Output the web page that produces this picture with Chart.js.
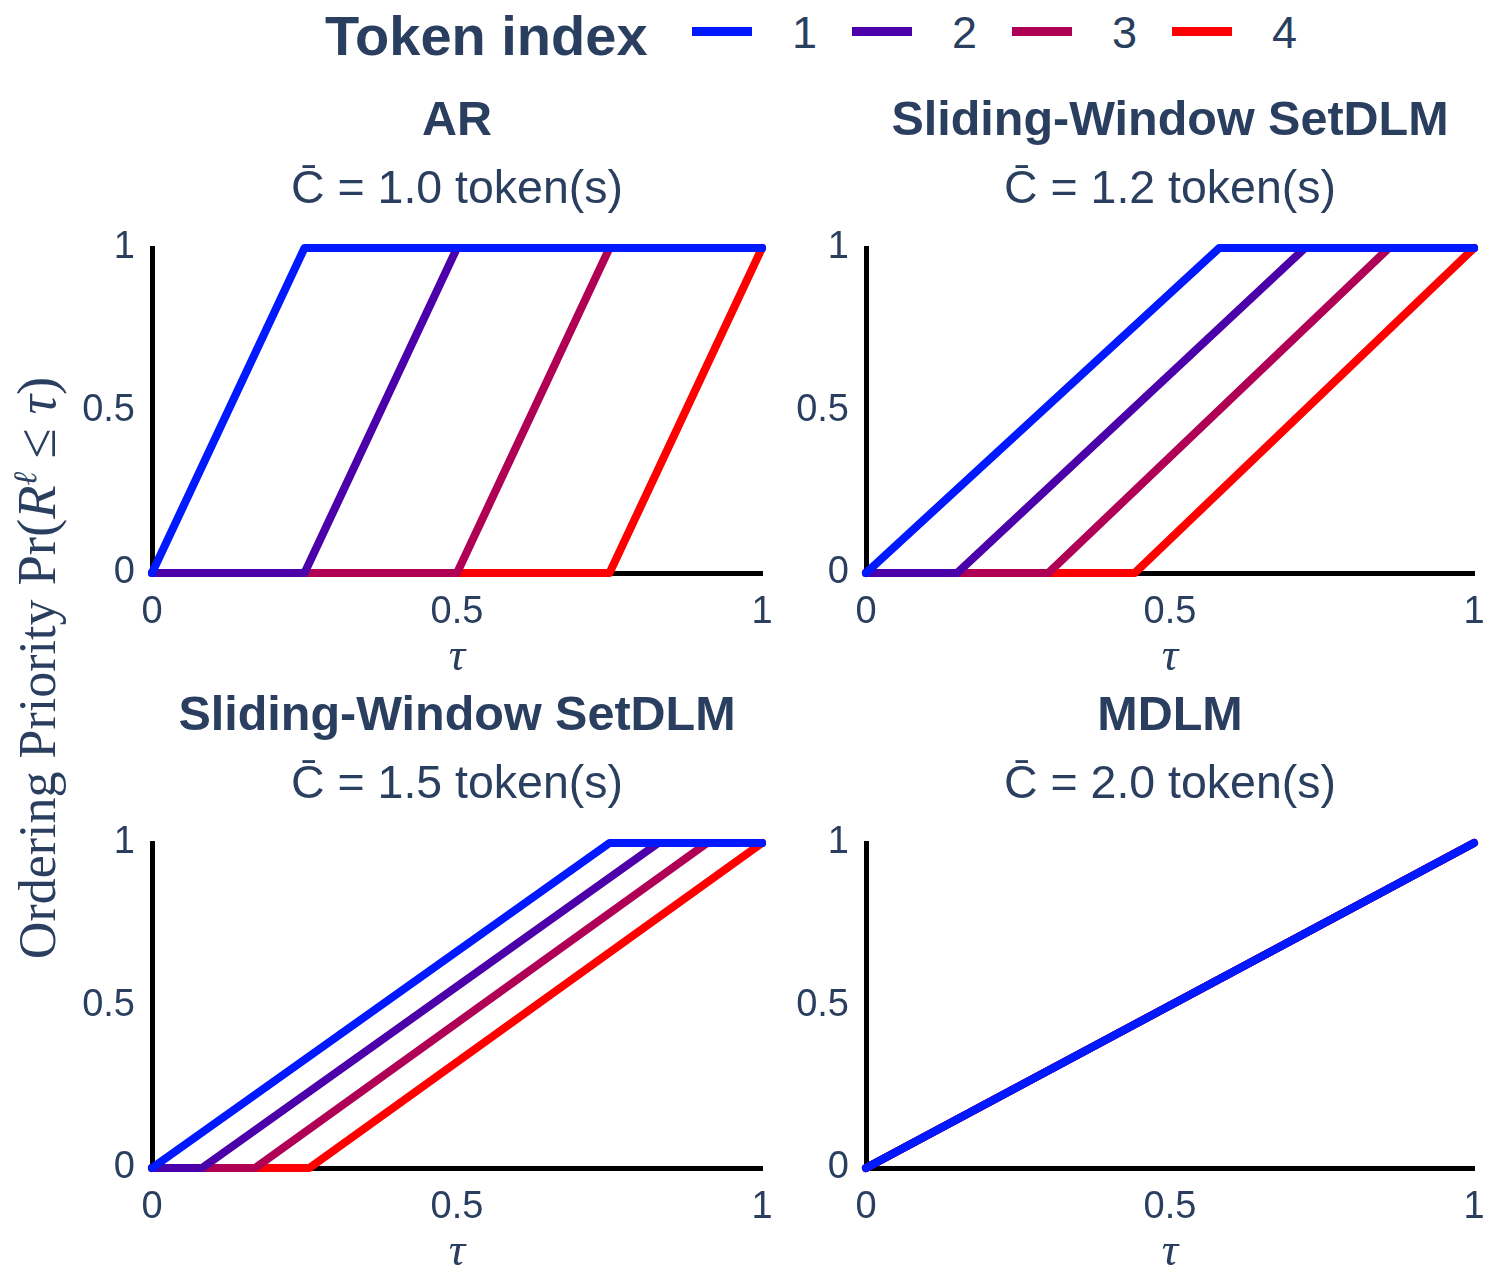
<!DOCTYPE html>
<html>
<head>
<meta charset="utf-8">
<script src="https://cdn.jsdelivr.net/npm/chart.js@4.4.1/dist/chart.umd.min.js"></script>
<style>
  html, body { margin: 0; padding: 0; background: #ffffff; }
  #wrap { position: relative; width: 1500px; height: 1285px; background: #ffffff; overflow: hidden; }
  #wrap canvas { position: absolute; }
  .txt { position: absolute; color: #2a3f5f; white-space: nowrap; line-height: 1; }
</style>
</head>
<body>
<div id="wrap"></div>
<script>
// ---------------- data ----------------
const tokenLabels = ['1', '2', '3', '4'];
const legendTitle = 'Token index';
const panelTitles = ['AR', 'Sliding-Window SetDLM', 'Sliding-Window SetDLM', 'MDLM'];
const panelSubtitles = ['C\u0304 = 1.0 token(s)', 'C\u0304 = 1.2 token(s)', 'C\u0304 = 1.5 token(s)', 'C\u0304 = 2.0 token(s)'];
// tau where Pr(R <= tau) starts rising from 0, and tau where it reaches 1 (per token)
const arRise   = [0, 0.25, 0.5, 0.75];
const arFull   = [0.25, 0.5, 0.75, 1];
const sw12Rise = [0, 0.15, 0.30, 0.442];
const sw12Full = [0.581, 0.722, 0.86, 1];
const sw15Rise = [0, 0.082, 0.169, 0.258];
const sw15Full = [0.75, 0.83, 0.91, 1];
const mdlmRise = [0, 0, 0, 0];
const mdlmFull = [1, 1, 1, 1];
const tauTicks = [0, 0.5, 1];
const tauTickLabels = ['0', '0.5', '1'];
const prTicks = [0, 0.5, 1];
const prTickLabels = ['0', '0.5', '1'];
const xAxisTitle = '\u03C4';

// ---------------- style ----------------
const tokenColors = ['rgb(0,25,255)', 'rgb(76,0,170)', 'rgb(176,0,85)', 'rgb(255,0,0)'];
const TXT = '#2a3f5f';
const SANS = "'Liberation Sans', Arial, Helvetica, sans-serif";
const SERIF = "'Liberation Serif', 'Times New Roman', serif";

const wrap = document.getElementById('wrap');

// legend and shared y title (HTML text)
(function () {
  const t = document.createElement('div');
  t.className = 'txt';
  t.style.cssText = "left:325px;top:8px;font-family:" + SANS + ";font-size:56px;font-weight:bold;";
  t.textContent = legendTitle;
  wrap.appendChild(t);
  tokenLabels.forEach((lab, i) => {
    const x0 = 692 + i * 160;
    const ln = document.createElement('div');
    ln.style.cssText = 'position:absolute;left:' + x0 + 'px;top:27px;width:60px;height:9px;background:' + tokenColors[i] + ';';
    wrap.appendChild(ln);
    const tx = document.createElement('div');
    tx.className = 'txt';
    tx.style.cssText = 'left:' + (x0 + 100) + 'px;top:10px;font-family:' + SANS + ';font-size:45px;';
    tx.textContent = lab;
    wrap.appendChild(tx);
  });
  const yt = document.createElement('div');
  yt.className = 'txt';
  yt.style.cssText = 'left:37px;top:668px;transform:translate(-50%,-50%) rotate(-90deg);font-family:' + SERIF + ';font-size:52px;';
  yt.innerHTML = 'Ordering Priority<span style="font-size:1.05em;margin-left:14px;">Pr(<i>R</i><sup style="font-size:0.6em;"><i>\u2113</i></sup> \u2264 <i>\u03C4</i>)</span>';
  wrap.appendChild(yt);
})();

const panels = [
  { rise: arRise,   full: arFull,   title: panelTitles[0], sub: panelSubtitles[0], left: 60,  top: 80,  w: 736, yw: 92, pr: 34 },
  { rise: sw12Rise, full: sw12Full, title: panelTitles[1], sub: panelSubtitles[1], left: 780, top: 80,  w: 728, yw: 86, pr: 34 },
  { rise: sw15Rise, full: sw15Full, title: panelTitles[2], sub: panelSubtitles[2], left: 60,  top: 675, w: 736, yw: 92, pr: 34 },
  { rise: mdlmRise, full: mdlmFull, title: panelTitles[3], sub: panelSubtitles[3], left: 780, top: 675, w: 728, yw: 86, pr: 34 }
];

panels.forEach((p) => {
  const cv = document.createElement('canvas');
  cv.width = p.w; cv.height = 610;
  cv.style.left = p.left + 'px'; cv.style.top = p.top + 'px';
  cv.style.width = p.w + 'px'; cv.style.height = '610px';
  wrap.appendChild(cv);
  const datasets = tokenLabels.map((lab, i) => ({
    label: lab,
    data: [{ x: 0, y: 0 }, { x: p.rise[i], y: 0 }, { x: p.full[i], y: 1 }, { x: 1, y: 1 }],
    borderColor: tokenColors[i],
    backgroundColor: tokenColors[i],
    borderWidth: 8,
    borderCapStyle: 'round',
    borderJoinStyle: 'round',
    pointRadius: 0,
    pointHoverRadius: 0,
    fill: false,
    tension: 0,
    clip: false
  }));
  new Chart(cv, {
    type: 'line',
    data: { datasets },
    options: {
      responsive: false,
      animation: false,
      events: [],
      devicePixelRatio: 1,
      layout: { padding: { left: 0, right: p.pr, top: 0, bottom: 9 } },
      plugins: {
        legend: { display: false },
        tooltip: { enabled: false },
        title: {
          display: true, text: p.title, color: TXT, fullSize: false,
          font: { family: SANS, size: 48.5, weight: 'bold', lineHeight: 1 },
          padding: { top: 17.5, bottom: 10.5 }
        },
        subtitle: {
          display: true, text: p.sub, color: TXT, fullSize: false,
          font: { family: SANS, size: 46.5, weight: 'normal', lineHeight: 1 },
          padding: { top: 10.5, bottom: 34.5 }
        }
      },
      scales: {
        x: {
          type: 'linear', min: 0, max: 1,
          grid: { display: false, drawTicks: false, tickLength: 0 },
          border: { display: true, color: '#000000', width: 5 },
          afterBuildTicks: s => { s.ticks = tauTicks.map(v => ({ value: v })); },
          ticks: {
            color: TXT, font: { family: SANS, size: 38, lineHeight: 1 }, padding: 21,
            maxRotation: 0, autoSkip: false,
            callback: (v, i) => tauTickLabels[i]
          },
          title: {
            display: true, text: xAxisTitle, color: TXT,
            font: { family: SERIF, size: 46, style: 'italic', lineHeight: 1 },
            padding: { top: 0, bottom: 0 }
          },
          afterFit: s => { s.height = 108; }
        },
        y: {
          type: 'linear', min: 0, max: 1,
          grid: { display: false, drawTicks: false, tickLength: 0 },
          border: { display: true, color: '#000000', width: 5 },
          afterBuildTicks: s => { s.ticks = prTicks.map(v => ({ value: v })); },
          ticks: {
            color: TXT, font: { family: SANS, size: 38, lineHeight: 1 }, padding: 17,
            autoSkip: false,
            callback: (v, i) => prTickLabels[i]
          },
          afterFit: s => { s.width = p.yw; }
        }
      }
    }
  });
});
</script>
</body>
</html>
